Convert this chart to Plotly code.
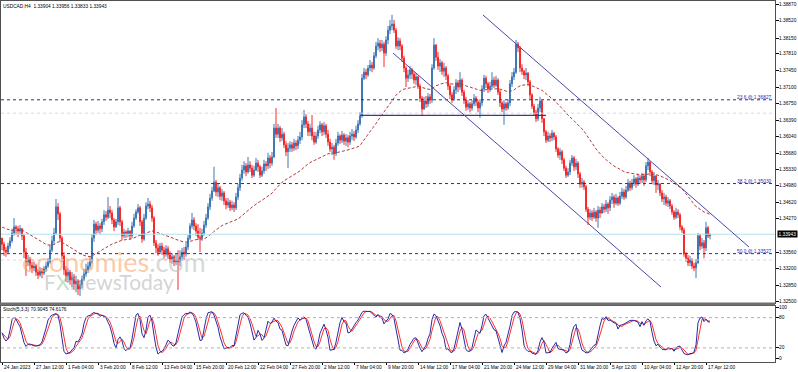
import plotly.graph_objects as go
import pandas as pd

# ---------------- data (USDCAD H4) ----------------
first_open = 1.3386
closes = [
1.3373, 1.3360, 1.3356, 1.3369, 1.3380, 1.3397, 1.3410, 1.3406, 1.3401, 1.3406,
1.3391, 1.3356, 1.3335, 1.3341, 1.3328, 1.3322, 1.3326, 1.3313, 1.3307, 1.3315,
1.3311, 1.3320, 1.3326, 1.3335, 1.3360, 1.3380, 1.3397, 1.3453, 1.3438, 1.3386,
1.3348, 1.3318, 1.3305, 1.3313, 1.3296, 1.3303, 1.3288, 1.3294, 1.3277, 1.3286,
1.3298, 1.3309, 1.3318, 1.3326, 1.3335, 1.3386, 1.3416, 1.3403, 1.3412, 1.3406,
1.3421, 1.3436, 1.3431, 1.3446, 1.3440, 1.3425, 1.3410, 1.3421, 1.3451, 1.3421,
1.3391, 1.3399, 1.3395, 1.3401, 1.3391, 1.3412, 1.3429, 1.3442, 1.3451, 1.3421,
1.3384, 1.3429, 1.3455, 1.3459, 1.3451, 1.3429, 1.3376, 1.3365, 1.3356, 1.3369,
1.3360, 1.3352, 1.3363, 1.3350, 1.3339, 1.3346, 1.3335, 1.3341, 1.3335, 1.3346,
1.3356, 1.3352, 1.3367, 1.3386, 1.3412, 1.3425, 1.3412, 1.3401, 1.3388, 1.3386,
1.3397, 1.3414, 1.3429, 1.3453, 1.3472, 1.3487, 1.3506, 1.3485, 1.3494, 1.3476,
1.3483, 1.3466, 1.3457, 1.3463, 1.3451, 1.3457, 1.3451, 1.3474, 1.3494, 1.3515,
1.3532, 1.3541, 1.3528, 1.3543, 1.3536, 1.3521, 1.3532, 1.3547, 1.3539, 1.3521,
1.3530, 1.3545, 1.3541, 1.3558, 1.3547, 1.3560, 1.3622, 1.3609, 1.3622, 1.3601,
1.3609, 1.3586, 1.3571, 1.3579, 1.3586, 1.3579, 1.3590, 1.3584, 1.3596, 1.3603,
1.3629, 1.3646, 1.3631, 1.3614, 1.3622, 1.3605, 1.3592, 1.3605, 1.3618, 1.3629,
1.3614, 1.3627, 1.3609, 1.3592, 1.3577, 1.3581, 1.3567, 1.3590, 1.3605, 1.3596,
1.3607, 1.3594, 1.3601, 1.3592, 1.3605, 1.3609, 1.3603, 1.3618, 1.3631, 1.3648,
1.3729, 1.3742, 1.3736, 1.3751, 1.3757, 1.3751, 1.3777, 1.3798, 1.3804, 1.3794,
1.3802, 1.3783, 1.3811, 1.3832, 1.3841, 1.3845, 1.3832, 1.3798, 1.3809, 1.3798,
1.3772, 1.3751, 1.3729, 1.3736, 1.3747, 1.3738, 1.3725, 1.3732, 1.3712, 1.3686,
1.3663, 1.3680, 1.3674, 1.3689, 1.3682, 1.3751, 1.3800, 1.3774, 1.3755, 1.3762,
1.3744, 1.3751, 1.3734, 1.3712, 1.3693, 1.3684, 1.3704, 1.3719, 1.3710, 1.3725,
1.3699, 1.3682, 1.3667, 1.3674, 1.3665, 1.3674, 1.3686, 1.3678, 1.3665, 1.3676,
1.3706, 1.3729, 1.3717, 1.3706, 1.3712, 1.3725, 1.3714, 1.3725, 1.3699, 1.3676,
1.3663, 1.3674, 1.3665, 1.3676, 1.3717, 1.3732, 1.3742, 1.3802, 1.3794, 1.3751,
1.3744, 1.3736, 1.3740, 1.3721, 1.3693, 1.3669, 1.3656, 1.3642, 1.3665, 1.3680,
1.3642, 1.3614, 1.3596, 1.3605, 1.3601, 1.3611, 1.3603, 1.3577, 1.3564, 1.3571,
1.3554, 1.3536, 1.3521, 1.3528, 1.3547, 1.3558, 1.3539, 1.3547, 1.3524, 1.3502,
1.3506, 1.3496, 1.3448, 1.3431, 1.3440, 1.3431, 1.3442, 1.3429, 1.3446, 1.3440,
1.3453, 1.3448, 1.3459, 1.3451, 1.3468, 1.3474, 1.3461, 1.3472, 1.3461, 1.3476,
1.3485, 1.3474, 1.3489, 1.3504, 1.3494, 1.3504, 1.3513, 1.3502, 1.3515, 1.3511,
1.3519, 1.3511, 1.3541, 1.3549, 1.3528, 1.3509, 1.3519, 1.3500, 1.3502, 1.3483,
1.3470, 1.3474, 1.3461, 1.3466, 1.3455, 1.3442, 1.3431, 1.3442, 1.3436, 1.3410,
1.3403, 1.3352, 1.3343, 1.3333, 1.3339, 1.3326, 1.3322, 1.3333, 1.3391, 1.3369,
1.3376, 1.3365, 1.3408, 1.33904, 1.33943,
]
highs = [
1.3386, 1.3378, 1.3367, 1.3376, 1.3388, 1.3406, 1.3429, 1.3414, 1.3412, 1.3414,
1.3408, 1.3395, 1.3365, 1.3350, 1.3346, 1.3335, 1.3335, 1.3331, 1.3320, 1.3324,
1.3322, 1.3326, 1.3335, 1.3343, 1.3371, 1.3391, 1.3408, 1.3470, 1.3461, 1.3442,
1.3391, 1.3356, 1.3326, 1.3322, 1.3318, 1.3313, 1.3309, 1.3305, 1.3298, 1.3296,
1.3305, 1.3320, 1.3331, 1.3335, 1.3346, 1.3395, 1.3425, 1.3421, 1.3423, 1.3418,
1.3427, 1.3446, 1.3444, 1.3474, 1.3455, 1.3446, 1.3429, 1.3427, 1.3472, 1.3455,
1.3425, 1.3406, 1.3403, 1.3408, 1.3403, 1.3421, 1.3438, 1.3448, 1.3459, 1.3455,
1.3425, 1.3438, 1.3463, 1.3472, 1.3466, 1.3457, 1.3433, 1.3382, 1.3373, 1.3376,
1.3376, 1.3367, 1.3371, 1.3369, 1.3358, 1.3354, 1.3350, 1.3352, 1.3360, 1.3360,
1.3365, 1.3367, 1.3376, 1.3393, 1.3418, 1.3440, 1.3431, 1.3418, 1.3416, 1.3408,
1.3406, 1.3423, 1.3438, 1.3461, 1.3481, 1.3496, 1.3539, 1.3511, 1.3502, 1.3498,
1.3491, 1.3487, 1.3472, 1.3472, 1.3468, 1.3466, 1.3463, 1.3483, 1.3502, 1.3524,
1.3543, 1.3551, 1.3547, 1.3560, 1.3551, 1.3543, 1.3541, 1.3558, 1.3554, 1.3543,
1.3539, 1.3554, 1.3551, 1.3569, 1.3564, 1.3571, 1.3631, 1.3665, 1.3631, 1.3627,
1.3622, 1.3614, 1.3594, 1.3590, 1.3594, 1.3592, 1.3599, 1.3596, 1.3605, 1.3614,
1.3639, 1.3661, 1.3652, 1.3637, 1.3631, 1.3650, 1.3614, 1.3614, 1.3627, 1.3637,
1.3633, 1.3635, 1.3631, 1.3618, 1.3599, 1.3590, 1.3586, 1.3599, 1.3614, 1.3609,
1.3616, 1.3611, 1.3609, 1.3607, 1.3614, 1.3620, 1.3616, 1.3627, 1.3639, 1.3656,
1.3738, 1.3751, 1.3749, 1.3757, 1.3768, 1.3764, 1.3785, 1.3807, 1.3815, 1.3811,
1.3811, 1.3807, 1.3819, 1.3841, 1.3854, 1.3865, 1.3854, 1.3837, 1.3817, 1.3815,
1.3802, 1.3777, 1.3755, 1.3747, 1.3755, 1.3751, 1.3744, 1.3740, 1.3734, 1.3717,
1.3691, 1.3689, 1.3691, 1.3697, 1.3695, 1.3759, 1.3815, 1.3802, 1.3785, 1.3770,
1.3766, 1.3762, 1.3755, 1.3738, 1.3717, 1.3699, 1.3712, 1.3727, 1.3725, 1.3742,
1.3729, 1.3704, 1.3689, 1.3682, 1.3678, 1.3682, 1.3695, 1.3691, 1.3682, 1.3684,
1.3714, 1.3736, 1.3734, 1.3721, 1.3721, 1.3742, 1.3732, 1.3734, 1.3729, 1.3704,
1.3680, 1.3682, 1.3678, 1.3684, 1.3725, 1.3742, 1.3751, 1.3811, 1.3807, 1.3798,
1.3759, 1.3747, 1.3751, 1.3742, 1.3725, 1.3697, 1.3674, 1.3661, 1.3674, 1.3689,
1.3682, 1.3644, 1.3618, 1.3614, 1.3611, 1.3618, 1.3614, 1.3607, 1.3581, 1.3579,
1.3575, 1.3558, 1.3541, 1.3536, 1.3554, 1.3564, 1.3562, 1.3556, 1.3551, 1.3528,
1.3515, 1.3511, 1.3500, 1.3453, 1.3448, 1.3446, 1.3451, 1.3446, 1.3455, 1.3453,
1.3461, 1.3459, 1.3468, 1.3463, 1.3476, 1.3483, 1.3479, 1.3481, 1.3476, 1.3485,
1.3494, 1.3491, 1.3498, 1.3513, 1.3509, 1.3513, 1.3521, 1.3517, 1.3524, 1.3521,
1.3526, 1.3524, 1.3549, 1.3558, 1.3551, 1.3532, 1.3528, 1.3521, 1.3511, 1.3504,
1.3489, 1.3483, 1.3479, 1.3474, 1.3470, 1.3459, 1.3446, 1.3451, 1.3448, 1.3440,
1.3414, 1.3408, 1.3356, 1.3350, 1.3348, 1.3343, 1.3333, 1.3341, 1.3397, 1.3395,
1.3386, 1.3382, 1.3421, 1.3412, 1.33956,
]
lows = [
1.3360, 1.3348, 1.3346, 1.3352, 1.3363, 1.3376, 1.3391, 1.3393, 1.3388, 1.3393,
1.3382, 1.3343, 1.3305, 1.3326, 1.3318, 1.3311, 1.3315, 1.3305, 1.3298, 1.3303,
1.3300, 1.3307, 1.3313, 1.3322, 1.3331, 1.3356, 1.3373, 1.3393, 1.3425, 1.3378,
1.3335, 1.3307, 1.3292, 1.3290, 1.3286, 1.3281, 1.3275, 1.3270, 1.3264, 1.3262,
1.3279, 1.3294, 1.3303, 1.3311, 1.3320, 1.3331, 1.3378, 1.3393, 1.3397, 1.3395,
1.3399, 1.3414, 1.3423, 1.3427, 1.3429, 1.3416, 1.3401, 1.3408, 1.3414, 1.3412,
1.3382, 1.3386, 1.3386, 1.3388, 1.3382, 1.3386, 1.3408, 1.3425, 1.3438, 1.3412,
1.3376, 1.3380, 1.3425, 1.3448, 1.3442, 1.3421, 1.3369, 1.3354, 1.3348, 1.3352,
1.3350, 1.3343, 1.3346, 1.3341, 1.3333, 1.3331, 1.3326, 1.3328, 1.3275, 1.3326,
1.3337, 1.3339, 1.3346, 1.3360, 1.3382, 1.3406, 1.3403, 1.3391, 1.3382, 1.3356,
1.3380, 1.3391, 1.3408, 1.3425, 1.3446, 1.3466, 1.3485, 1.3476, 1.3474, 1.3468,
1.3466, 1.3457, 1.3448, 1.3451, 1.3444, 1.3446, 1.3442, 1.3446, 1.3468, 1.3487,
1.3509, 1.3524, 1.3519, 1.3524, 1.3528, 1.3515, 1.3517, 1.3530, 1.3528, 1.3515,
1.3517, 1.3524, 1.3530, 1.3534, 1.3536, 1.3541, 1.3558, 1.3601, 1.3601, 1.3592,
1.3594, 1.3579, 1.3562, 1.3536, 1.3571, 1.3571, 1.3573, 1.3575, 1.3577, 1.3588,
1.3596, 1.3622, 1.3622, 1.3605, 1.3605, 1.3596, 1.3586, 1.3588, 1.3599, 1.3611,
1.3605, 1.3607, 1.3601, 1.3584, 1.3571, 1.3564, 1.3554, 1.3562, 1.3584, 1.3588,
1.3590, 1.3586, 1.3584, 1.3581, 1.3586, 1.3596, 1.3594, 1.3599, 1.3611, 1.3627,
1.3644, 1.3725, 1.3727, 1.3732, 1.3744, 1.3742, 1.3747, 1.3772, 1.3789, 1.3785,
1.3787, 1.3753, 1.3777, 1.3802, 1.3824, 1.3832, 1.3826, 1.3792, 1.3789, 1.3789,
1.3764, 1.3742, 1.3710, 1.3721, 1.3727, 1.3727, 1.3717, 1.3714, 1.3706, 1.3678,
1.3650, 1.3661, 1.3665, 1.3667, 1.3674, 1.3676, 1.3747, 1.3766, 1.3747, 1.3742,
1.3736, 1.3732, 1.3725, 1.3704, 1.3684, 1.3676, 1.3680, 1.3695, 1.3699, 1.3704,
1.3691, 1.3674, 1.3659, 1.3661, 1.3656, 1.3659, 1.3669, 1.3669, 1.3656, 1.3644,
1.3669, 1.3699, 1.3708, 1.3697, 1.3699, 1.3706, 1.3708, 1.3710, 1.3693, 1.3667,
1.3656, 1.3629, 1.3659, 1.3661, 1.3669, 1.3710, 1.3725, 1.3738, 1.3785, 1.3742,
1.3736, 1.3727, 1.3725, 1.3712, 1.3684, 1.3663, 1.3648, 1.3635, 1.3637, 1.3656,
1.3633, 1.3605, 1.3590, 1.3592, 1.3592, 1.3594, 1.3596, 1.3571, 1.3558, 1.3554,
1.3545, 1.3530, 1.3515, 1.3517, 1.3521, 1.3541, 1.3530, 1.3532, 1.3515, 1.3494,
1.3494, 1.3489, 1.3442, 1.3414, 1.3425, 1.3423, 1.3427, 1.3421, 1.3408, 1.3429,
1.3438, 1.3440, 1.3442, 1.3438, 1.3444, 1.3459, 1.3451, 1.3457, 1.3455, 1.3457,
1.3470, 1.3468, 1.3470, 1.3485, 1.3487, 1.3489, 1.3498, 1.3494, 1.3498, 1.3502,
1.3504, 1.3498, 1.3506, 1.3532, 1.3519, 1.3502, 1.3500, 1.3483, 1.3489, 1.3476,
1.3463, 1.3457, 1.3455, 1.3453, 1.3448, 1.3436, 1.3425, 1.3427, 1.3429, 1.3403,
1.3397, 1.3346, 1.3335, 1.3326, 1.3326, 1.3320, 1.3315, 1.3300, 1.3331, 1.3360,
1.3363, 1.3343, 1.3358, 1.3386, 1.33833,
]

ma_seed = 1.3411          # MA value at the first visible bar
ma_period = 50
stoch_k, stoch_d, stoch_slow = 5, 3, 3

price_ticks = [1.38870, 1.38520, 1.38150, 1.37810, 1.37450, 1.37100, 1.36750,
               1.36390, 1.36040, 1.35680, 1.35330, 1.34980, 1.34620, 1.34270,
               1.33560, 1.33200, 1.32850, 1.32500]
time_tick_bars = [0, 16, 32, 48, 64, 80, 96, 112, 128, 144, 160, 176, 192,
                  208, 224, 240, 256, 272, 288, 304, 320, 336, 352]
time_labels = ["24 Jan 2023", "27 Jan 12:00", "1 Feb 04:00", "3 Feb 20:00",
               "8 Feb 12:00", "13 Feb 04:00", "15 Feb 20:00", "20 Feb 12:00",
               "22 Feb 04:00", "27 Feb 20:00", "2 Mar 12:00", "7 Mar 04:00",
               "9 Mar 20:00", "14 Mar 12:00", "17 Mar 04:00", "21 Mar 20:00",
               "24 Mar 12:00", "29 Mar 04:00", "31 Mar 20:00", "5 Apr 12:00",
               "10 Apr 04:00", "12 Apr 20:00", "17 Apr 12:00"]
stoch_ticks = [100, 80, 20, 0]
fib_levels = [("23.6", 1.36827), ("38.2", 1.35030), ("50.0", 1.33527)]
faint_levels = [1.3654, 1.3339]
last_price = 1.33943
support_line = dict(b0=179, b1=272, p=1.36494)
channel_lower = dict(b0=195.5, p0=1.37830, b1=329.5, p1=1.32811)
channel_upper = dict(b0=240.5, p0=1.38645, b1=373.5, p1=1.33669)
stoch_levels = [80, 20]

# ---------------- derived series ----------------
n = len(closes)
idx = list(range(n))
opens = [first_open] + closes[:-1]
highs = [max(h, o, c) for h, o, c in zip(highs, opens, closes)]
lows = [min(l, o, c) for l, o, c in zip(lows, opens, closes)]

alpha = 2.0 / (ma_period + 1)
ma, v = [], ma_seed
for c in closes:
    v += alpha * (c - v)
    ma.append(v)

H, L, C = pd.Series(highs), pd.Series(lows), pd.Series(closes)
ll = L.rolling(stoch_k, min_periods=1).min()
hh = H.rolling(stoch_k, min_periods=1).max()
num = (C - ll).rolling(stoch_slow, min_periods=1).sum()
den = (hh - ll).rolling(stoch_slow, min_periods=1).sum()
k_line = (100 * num / den).tolist()
d_line = pd.Series(k_line).rolling(stoch_d, min_periods=1).mean().tolist()

# ---------------- geometry helpers ----------------
W, Hgt = 798, 372
ML, MR, MT, MB = 1, 23, 1, 10
PW, PH = W - ML - MR, Hgt - MT - MB


def xp(px):
    return (px - ML) / PW


def yp(py):
    return 1 - (py - MT) / PH


BULL = "#3f79b5"
BEAR = "#f52a2a"
NAVY = "#2b2b9a"
FONT = "Liberation Sans"

fig = go.Figure()
fig.add_trace(go.Candlestick(
    x=idx, open=opens, high=highs, low=lows, close=closes,
    increasing=dict(line=dict(color=BULL, width=1), fillcolor=BULL),
    decreasing=dict(line=dict(color=BEAR, width=1), fillcolor=BEAR),
    whiskerwidth=0, hoverinfo="skip", xaxis="x", yaxis="y"))
fig.add_trace(go.Scatter(x=idx, y=ma, mode="lines",
                         line=dict(color="#b23b3b", width=1, dash="3px,2px"),
                         hoverinfo="skip", xaxis="x", yaxis="y"))
fig.add_trace(go.Scatter(x=idx, y=d_line, mode="lines",
                         line=dict(color="#ff3030", width=1),
                         hoverinfo="skip", xaxis="x2", yaxis="y2"))
fig.add_trace(go.Scatter(x=idx, y=k_line, mode="lines",
                         line=dict(color="#2a2aa5", width=1),
                         hoverinfo="skip", xaxis="x2", yaxis="y2"))

shapes = []
shapes.append(dict(type="line", xref="paper", yref="y", x0=0, x1=1,
                   y0=last_price, y1=last_price,
                   line=dict(color="#b5e0ea", width=1)))
for lv in faint_levels:
    shapes.append(dict(type="line", xref="paper", yref="y", x0=0, x1=1,
                       y0=lv, y1=lv, line=dict(color="#d8d8e6", width=1, dash="dot")))
for _, lv in fib_levels:
    shapes.append(dict(type="line", xref="paper", yref="y", x0=0, x1=1,
                       y0=lv, y1=lv, line=dict(color=NAVY, width=1, dash="dot")))
shapes.append(dict(type="line", xref="x", yref="y", x0=support_line["b0"],
                   x1=support_line["b1"], y0=support_line["p"], y1=support_line["p"],
                   line=dict(color="#3a3a8c", width=1.3)))
for ch in (channel_lower, channel_upper):
    shapes.append(dict(type="line", xref="x", yref="y", x0=ch["b0"], y0=ch["p0"],
                       x1=ch["b1"], y1=ch["p1"], line=dict(color="#4848a8", width=1)))
for lv in stoch_levels:
    shapes.append(dict(type="line", xref="paper", yref="y2", x0=0, x1=1,
                       y0=lv, y1=lv, line=dict(color="#b0b0b0", width=1, dash="dot")))
shapes.append(dict(type="rect", xref="paper", yref="paper", x0=xp(0), x1=xp(775),
                   y0=yp(305.5), y1=yp(302.5), fillcolor="#707070", line=dict(width=0),
                   layer="above"))

ann = []
small = dict(family=FONT, size=4.8, color="#000000")
ann.append(dict(x=xp(2), y=yp(7), xref="paper", yref="paper", xanchor="left",
                yanchor="middle", showarrow=False, borderpad=0,
                text="USDCAD,H4  1.33904 1.33956 1.33833 1.33943", font=small))
ann.append(dict(x=xp(2), y=yp(309.5), xref="paper", yref="paper", xanchor="left",
                yanchor="middle", showarrow=False, borderpad=0,
                text="Stoch(5,3,3) 70.9045 74.6176", font=small))
for name, lv in fib_levels:
    ann.append(dict(x=xp(773), y=lv, xref="paper", yref="y", xanchor="right",
                    yanchor="bottom", showarrow=False, yshift=-1, borderpad=0,
                    text=f"{name} @ {lv:.5f}",
                    font=dict(family=FONT, size=4.8, color=NAVY)))
for t in price_ticks:
    ann.append(dict(x=xp(778), y=t, xref="paper", yref="y", xanchor="left",
                    yanchor="middle", showarrow=False, borderpad=0,
                    text=f"{t:.5f}", font=small))
for t in stoch_ticks:
    ann.append(dict(x=xp(778), y=t, xref="paper", yref="y2", xanchor="left",
                    yanchor="middle", showarrow=False, borderpad=0,
                    text=str(t), font=small))
ann.append(dict(x=xp(777), y=last_price, xref="paper", yref="y", xanchor="left",
                yanchor="middle", showarrow=False, borderpad=0.5,
                text="1.33943", bgcolor="#000000",
                font=dict(family=FONT, size=4.8, color="#ffffff")))
for b, lab in zip(time_tick_bars, time_labels):
    ann.append(dict(x=b, y=yp(367), xref="x2", yref="paper", xanchor="left",
                    yanchor="middle", showarrow=False, borderpad=0, xshift=1,
                    text=lab, font=small))
ann.append(dict(x=xp(20), y=yp(261), xref="paper", yref="paper", xanchor="left",
                yanchor="middle", showarrow=False,
                text="<span style='color:rgba(248,160,100,0.55)'>economies</span>"
                     "<span style='color:rgba(190,190,190,0.6)'>.com</span>",
                font=dict(family="Lato", size=27)))
ann.append(dict(x=xp(42), y=yp(281), xref="paper", yref="paper", xanchor="left",
                yanchor="middle", showarrow=False,
                text="<span style='color:rgba(175,175,175,0.55)'>F</span>"
                     "<span style='color:rgba(120,190,120,0.45)'>X</span>"
                     "<span style='color:rgba(175,175,175,0.55)'>NewsToday</span>",
                font=dict(family="Lato", size=21)))

axis_common = dict(showgrid=False, zeroline=False, showline=True, automargin=False,
                   linecolor="#505050", linewidth=1, mirror=True)
fig.update_layout(
    width=W, height=Hgt, margin=dict(l=ML, r=MR, t=MT, b=MB, pad=0, autoexpand=False),
    paper_bgcolor="white", plot_bgcolor="white", showlegend=False,
    shapes=shapes, annotations=ann,
    xaxis=dict(domain=[0, 1], range=[-0.5, 386.5], anchor="y",
               showticklabels=False, ticks="", rangeslider=dict(visible=False),
               **axis_common),
    yaxis=dict(domain=[yp(303), 1], range=[1.32468, 1.38946], side="right",
               tickvals=price_ticks, showticklabels=False,
               ticks="outside", ticklen=3, tickcolor="#000000",
               anchor="x", **axis_common),
    xaxis2=dict(domain=[0, 1], range=[-0.5, 386.5], anchor="y2",
                tickvals=time_tick_bars, showticklabels=False, ticks="outside",
                ticklen=2, tickcolor="#000000", **axis_common),
    yaxis2=dict(domain=[0, yp(306)], range=[-7.9, 103], side="right",
                tickvals=stoch_ticks, showticklabels=False,
                ticks="outside", ticklen=3, tickcolor="#000000",
                anchor="x2", **axis_common),
)

fig.write_html("out.html", config={"displayModeBar": False, "staticPlot": True},
               post_script="document.body.style.margin='0px';"
                           "document.body.style.overflow='hidden';")
